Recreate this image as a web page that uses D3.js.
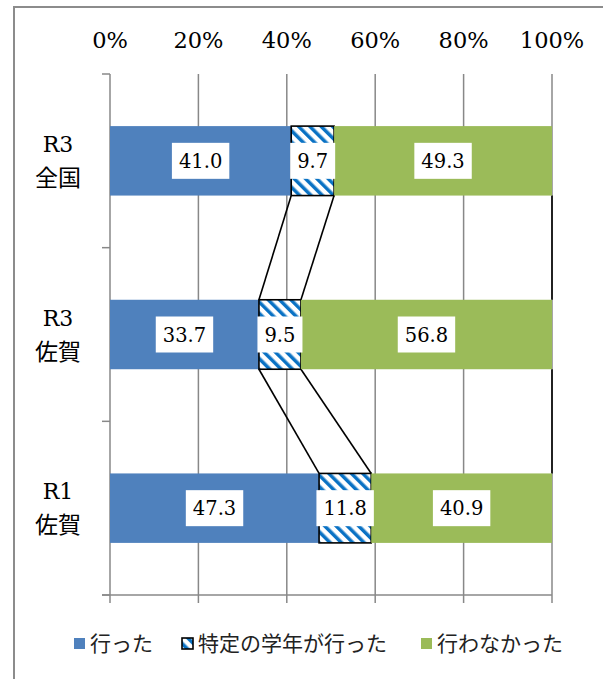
<!DOCTYPE html>
<html><head><meta charset="utf-8">
<script src="https://cdn.jsdelivr.net/npm/d3@7/dist/d3.min.js"></script>
<style>body{margin:0;background:#fff}svg{display:block}</style>
</head><body>
<svg id="c" width="603" height="679"></svg>
<script>
const catTop = ["R3","R3","R1"];
const catBottom = ["全国","佐賀","佐賀"];
const seriesNames = ["行った","特定の学年が行った","行わなかった"];
const did = [41.0, 33.7, 47.3];
const specific = [9.7, 9.5, 11.8];
const didNot = [49.3, 56.8, 40.9];
const tickValues = [0,20,40,60,80,100];

const svg = d3.select("#c");
const W=603,H=679;
const serif = "'DejaVu Serif', serif";
const cjk = "'Noto Sans CJK JP', sans-serif";

// frame
svg.append("rect").attr("x",14).attr("y",7).attr("width",W+20).attr("height",H+20)
  .attr("fill","none").attr("stroke","#8c8c8c").attr("stroke-width",2);

const defs = svg.append("defs");
const pat = defs.append("pattern").attr("id","hatch").attr("patternUnits","userSpaceOnUse")
  .attr("width",8).attr("height",8).attr("patternTransform","rotate(-45)");
pat.append("rect").attr("width",8).attr("height",8).attr("fill","#fff");
pat.append("rect").attr("x",0).attr("width",3.5).attr("height",8).attr("fill","#0a72c4");

const x = d3.scaleLinear().domain([0,100]).range([110,552]);
const idx = d3.range(catTop.length);
const y = d3.scaleBand().domain(idx).range([74,595]);
const barH = y.bandwidth()*0.4;
const barY = i => y(i) + (y.bandwidth()-barH)/2;

// gridlines
const g = svg.append("g");
g.selectAll("line.grid").data(tickValues.slice(1)).join("line")
  .attr("x1",d=>x(d)).attr("x2",d=>x(d)).attr("y1",74).attr("y2",603)
  .attr("stroke","#888").attr("stroke-width",1.5);
// bottom ticks for 0
g.append("line").attr("x1",x(0)).attr("x2",x(0)).attr("y1",595).attr("y2",603).attr("stroke","#888").attr("stroke-width",1.5);
// bottom axis line
g.append("line").attr("x1",102).attr("x2",x(100)).attr("y1",595).attr("y2",595).attr("stroke","#888").attr("stroke-width",1.5);
// category axis
g.append("line").attr("x1",x(0)).attr("x2",x(0)).attr("y1",74).attr("y2",595).attr("stroke","#888").attr("stroke-width",1.5);
const bounds = idx.map(i=>y(i)).concat([y(idx[idx.length-1])+y.bandwidth()]);
g.selectAll("line.ct").data(bounds).join("line")
  .attr("x1",102).attr("x2",x(0)).attr("y1",d=>d).attr("y2",d=>d).attr("stroke","#888").attr("stroke-width",1.5);

// top tick labels
svg.append("g").selectAll("text").data(tickValues).join("text")
  .attr("x",d=>x(d)).attr("y",48).attr("text-anchor","middle")
  .attr("font-family",serif).attr("font-size",22.5).attr("fill","#000")
  .text(d=>d+"%");

// stack
const rows = idx.map(i=>({a:did[i],b:specific[i],c:didNot[i]}));
const stack = d3.stack().keys(["a","b","c"])(rows);
const colors = {a:"#4f81bd", b:"url(#hatch)", c:"#9bbb59"};

// series lines
const sl = svg.append("g");
for (let i=0;i<idx.length-1;i++){
  stack.forEach(s=>{
    sl.append("line")
      .attr("x1",x(s[i][1])).attr("y1",barY(i)+barH)
      .attr("x2",x(s[i+1][1])).attr("y2",barY(i+1))
      .attr("stroke","#000").attr("stroke-width",1.6);
  });
}

// bars
stack.forEach(s=>{
  svg.append("g").selectAll("rect").data(s).join("rect")
    .attr("x",d=>x(d[0])).attr("width",d=>x(d[1])-x(d[0]))
    .attr("y",(d,i)=>barY(i)).attr("height",barH)
    .attr("fill",colors[s.key])
    .attr("stroke",s.key==="b"?"#000":"none").attr("stroke-width",1.6);
});

// labels
const lg = svg.append("g");
stack.forEach(s=>{
  s.forEach((d,i)=>{
    const cx = (x(d[0])+x(d[1]))/2, cy = barY(i)+barH/2;
    const gr = lg.append("g");
    const bx = gr.append("rect").attr("fill","#fff");
    const t = gr.append("text").attr("x",cx).attr("y",cy+7).attr("text-anchor","middle")
      .attr("font-family",serif).attr("font-size",19.5).attr("fill","#000")
      .text((d[1]-d[0]).toFixed(1));
    const w = t.node().getComputedTextLength()+14;
    bx.attr("x",cx-w/2).attr("width",w).attr("y",cy-18).attr("height",36);
  });
});

// category labels
const cl = svg.append("g");
idx.forEach(i=>{
  const cy = y(i)+y.bandwidth()/2;
  cl.append("text").attr("x",58).attr("y",cy-9).attr("text-anchor","middle")
    .attr("font-family",serif).attr("font-size",22).text(catTop[i]);
  cl.append("text").attr("x",58).attr("y",cy+25).attr("text-anchor","middle")
    .attr("font-family",cjk).attr("font-size",23).text(catBottom[i]);
});

// legend
const leg = svg.append("g");
const legX = [74,182,421];
const legFill = ["#4f81bd","url(#hatch)","#9bbb59"];
seriesNames.forEach((n,k)=>{
  leg.append("rect").attr("x",legX[k]).attr("y",638).attr("width",11).attr("height",11)
    .attr("fill",legFill[k]).attr("stroke",k===1?"#000":"none").attr("stroke-width",1.6);
  leg.append("text").attr("x",legX[k]+16).attr("y",651)
    .attr("font-family",cjk).attr("font-size",21).attr("fill","#222").text(n);
});
</script>
</body></html>
